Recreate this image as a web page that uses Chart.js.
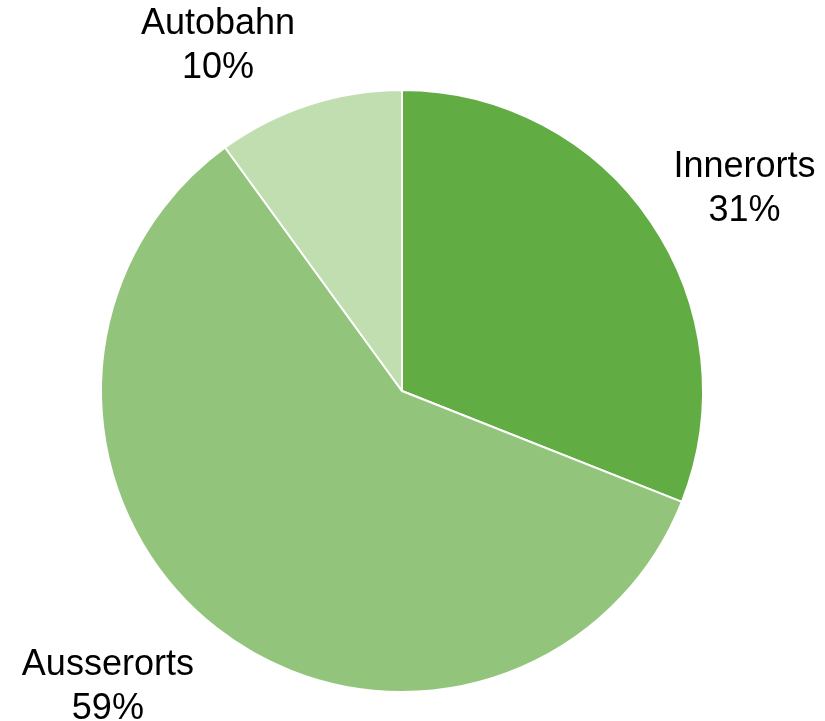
<!DOCTYPE html>
<html>
<head>
<meta charset="utf-8">
<script src="https://cdn.jsdelivr.net/npm/chart.js@4"></script>
<style>
  html, body { margin: 0; padding: 0; background: #fff; }
  #wrap { width: 825px; height: 721px; }
</style>
</head>
<body>
<div id="wrap"><canvas id="myChart" width="825" height="721"></canvas></div>
<script>
const categories = ['Innerorts', 'Ausserorts', 'Autobahn'];
const shares = [31, 59, 10];
const sliceColors = ['#62ad43', '#92c57b', '#c1deb1'];

// draws "Name\nxx%" outside each slice, placed from the arc geometry
const outsideLabels = {
  id: 'outsideLabels',
  afterDraw(chart) {
    let ctx = chart.ctx;
    let arcs = chart.getDatasetMeta(0).data;
    ctx.save();
    ctx.font = '36px "Liberation Sans", Arial, sans-serif';
    ctx.fillStyle = '#000';
    ctx.textAlign = 'center';
    ctx.textBaseline = 'middle';
    arcs.forEach((arc, i) => {
      let p = arc.getProps(['x', 'y', 'startAngle', 'endAngle', 'outerRadius'], true);
      let mid = (p.startAngle + p.endAngle) / 2;
      let c = Math.cos(mid), s = Math.sin(mid);
      let ax = p.x + (p.outerRadius + 32) * c;
      let ay = p.y + (p.outerRadius + 32) * s;
      let lines = [categories[i], shares[i] + '%'];
      let hw = Math.max(...lines.map(l => ctx.measureText(l).width)) / 2;
      let hh = 35;
      let cx = ax + hw * Math.sign(c) - 4;
      let cy = ay + hh * s + 5;
      ctx.fillText(lines[0], cx, cy - 22);
      ctx.fillText(lines[1], cx, cy + 22);
    });
    ctx.restore();
  }
};

new Chart(document.getElementById('myChart'), {
  type: 'pie',
  data: {
    labels: categories,
    datasets: [{
      data: shares,
      backgroundColor: sliceColors,
      borderColor: '#fff',
      borderWidth: 2,
      hoverOffset: 0
    }]
  },
  options: {
    responsive: false,
    animation: false,
    layout: { padding: { left: 100, right: 121, top: 89, bottom: 28 } },
    plugins: {
      legend: { display: false },
      tooltip: { enabled: false }
    }
  },
  plugins: [outsideLabels]
});
</script>
</body>
</html>
